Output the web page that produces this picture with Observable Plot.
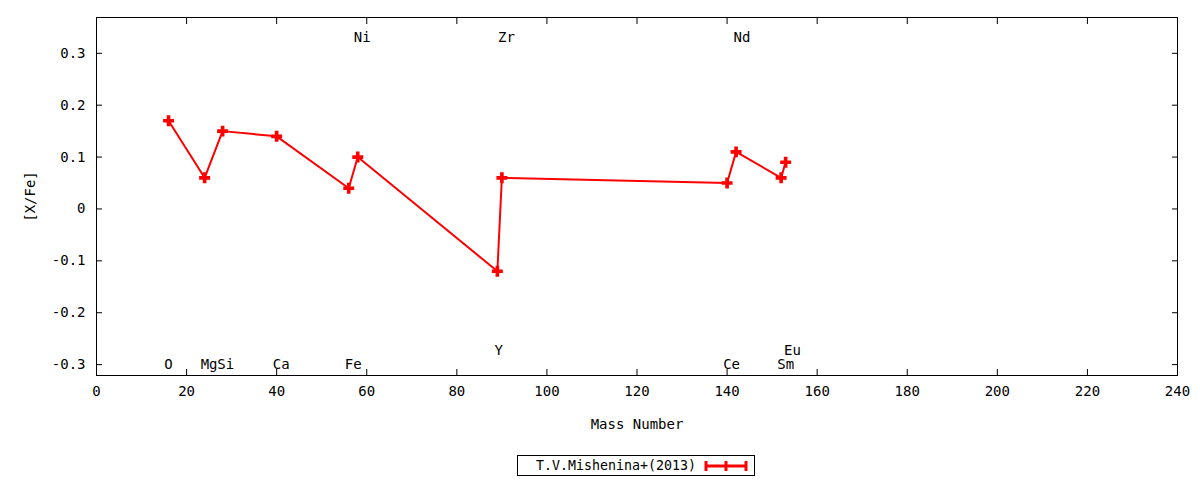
<!DOCTYPE html>
<html>
<head>
<meta charset="utf-8">
<script src="https://cdn.jsdelivr.net/npm/d3@7"></script>
<script src="https://cdn.jsdelivr.net/npm/@observablehq/plot@0.6"></script>
<style>
  html, body { margin: 0; padding: 0; background: #fff; }
  #legend { width: 1272px; display: flex; justify-content: center; margin-top: 15px; font-family: "DejaVu Sans Mono", monospace; font-size: 13.3px; }
  #legend .box { border: 1px solid #000; padding: 0 6px 0 18px; display: flex; align-items: center; gap: 8px; height: 19px; }
</style>
</head>
<body>
<div id="chart"></div>
<div id="legend"><div class="box"><span>T.V.Mishenina+(2013)</span>
<svg width="44" height="14"><g stroke="red" stroke-width="3"><line x1="2" x2="42" y1="7" y2="7"/><line x1="2" x2="2" y1="2" y2="12"/><line x1="42" x2="42" y1="2" y2="12"/><line x1="22" x2="22" y1="2" y2="12"/></g></svg></div></div>
<script>
// Data: element, mass number, [X/Fe]
const elements = ["O", "Mg", "Si", "Ca", "Fe", "Ni", "Y", "Zr", "Ce", "Nd", "Sm", "Eu"];
const mass = [16, 24, 28, 40, 56, 58, 89, 90, 140, 142, 152, 153];
const xfe = [0.17, 0.06, 0.15, 0.14, 0.04, 0.10, -0.12, 0.06, 0.05, 0.11, 0.06, 0.09];
// element label positions (mass, [X/Fe])
const labelX = [16, 25, 28.7, 41, 57, 59, 89.3, 91, 141, 143.3, 153, 154.5];
const labelY = [-0.3, -0.3, -0.3, -0.3, -0.3, 0.33, -0.273, 0.33, -0.3, 0.33, -0.3, -0.273];
const xTicks = d3.range(0, 241, 20);
const yTicks = [-0.3, -0.2, -0.1, 0, 0.1, 0.2, 0.3];

const points = elements.map((e, i) => ({el: e, m: mass[i], v: xfe[i]}));
const labels = elements.map((e, i) => ({el: e, x: labelX[i], y: labelY[i]}));
const fmtY = d => String(+d.toFixed(1));

const chart = Plot.plot({
  width: 1200,
  height: 440,
  marginTop: 17,
  marginBottom: 65,
  marginLeft: 96,
  marginRight: 23,
  style: {fontFamily: "DejaVu Sans Mono", fontSize: "14px", background: "#fff", color: "#000"},
  x: {domain: [0, 240]},
  y: {domain: [-0.321, 0.369]},
  marks: [
    Plot.frame({stroke: "#000", strokeWidth: 1}),
    Plot.axisX(xTicks, {anchor: "bottom", tickSize: -6, text: null, label: null}),
    Plot.axisX(xTicks, {anchor: "top", tickSize: -6, text: null, label: null}),
    Plot.axisY(yTicks, {anchor: "left", tickSize: -6, text: null, label: null}),
    Plot.axisY(yTicks, {anchor: "right", tickSize: -6, text: null, label: null}),
    Plot.axisX(xTicks, {anchor: "bottom", tickSize: 0, tickPadding: 11, label: "Mass Number", labelAnchor: "center", labelArrow: "none", labelOffset: 53}),
    Plot.axisY(yTicks, {anchor: "left", tickSize: 0, tickPadding: 11, tickFormat: fmtY, label: "[X/Fe]", labelAnchor: "center", labelArrow: "none", labelOffset: 71}),
    Plot.line(points, {x: "m", y: "v", stroke: "red", strokeWidth: 2}),
    Plot.dot(points, {x: "m", y: "v", symbol: "cross", fill: "red", r: 4.6}),
    Plot.text(labels, {x: "x", y: "y", text: "el", fill: "#000"})
  ]
});
document.getElementById("chart").append(chart);
</script>
</body>
</html>
